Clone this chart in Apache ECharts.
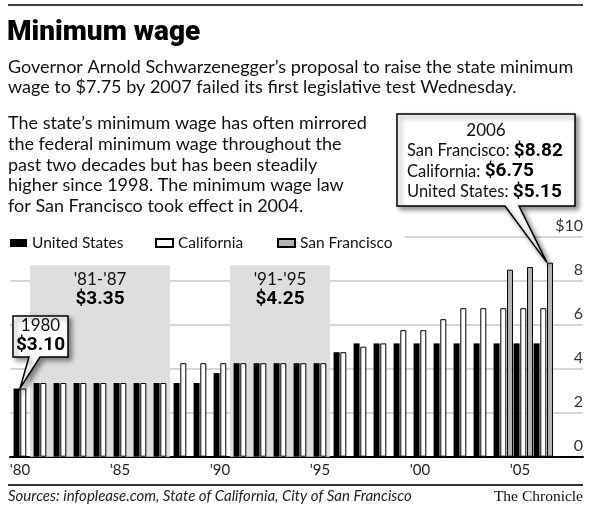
<!DOCTYPE html>
<html><head><meta charset="utf-8">
<script src="https://cdn.jsdelivr.net/npm/echarts@6/dist/echarts.min.js"></script>
<style>html,body{margin:0;padding:0;background:#fff}#c{width:600px;height:516px}</style>
</head><body><div id="c"></div>
<script>
// ---- data ----
const years = ['1980','1981','1982','1983','1984','1985','1986','1987','1988','1989','1990','1991','1992','1993','1994','1995','1996','1997','1998','1999','2000','2001','2002','2003','2004','2005','2006'];
const usWage = [3.10,3.35,3.35,3.35,3.35,3.35,3.35,3.35,3.35,3.35,3.80,4.25,4.25,4.25,4.25,4.25,4.75,5.15,5.15,5.15,5.15,5.15,5.15,5.15,5.15,5.15,5.15];
const caWage = [3.10,3.35,3.35,3.35,3.35,3.35,3.35,3.35,4.25,4.25,4.25,4.25,4.25,4.25,4.25,4.25,4.75,5.00,5.15,5.75,5.75,6.25,6.75,6.75,6.75,6.75,6.75];
const sfWage = [null,null,null,null,null,null,null,null,null,null,null,null,null,null,null,null,null,null,null,null,null,null,null,null,8.50,8.62,8.82];
const yTicks = [0,2,4,6,8,10];
const periodLabels = ["'81-'87", "'91-'95"];
const periodStart = [1981, 1991];
const periodEnd = [1987, 1995];
const periodWage = [3.35, 4.25];
const seriesNames = ['United States','California','San Francisco'];

const BODY = 'Lato';
const NUM = 'Roboto';
const chart = echarts.init(document.getElementById('c'));

const gridTop = 236.7, gridBottom = 59.3;
const option = {
  animation: false,
  backgroundColor: '#fff',
  grid: [
    {left: 10, right: 17, top: gridTop, bottom: gridBottom},
    {left: 13.3, width: 540, top: gridTop, bottom: gridBottom}
  ],
  xAxis: [
    {gridIndex: 0, type: 'value', min: 1979.5, max: 2008.15,
     axisLine: {show: true, lineStyle: {color: '#000', width: 2}},
     axisTick: {show: false}, axisLabel: {show: false}, splitLine: {show: false}},
    {gridIndex: 1, type: 'category', data: years,
     axisLine: {show: false}, axisTick: {show: false},
     axisLabel: {interval: 4, formatter: v => "'" + v.slice(2), fontSize: 15, fontFamily: BODY,
                 color: '#222', margin: 6, padding: [0, 6.6, 0, 0]}}
  ],
  yAxis: [
    {gridIndex: 0, type: 'value', min: yTicks[0], max: yTicks[yTicks.length-1], interval: 2, position: 'right',
     axisLine: {show: false}, axisTick: {show: false},
     splitLine: {lineStyle: {color: '#c8c8c8', width: 1.5}},
     axisLabel: {inside: true, verticalAlign: 'bottom', margin: 0, padding: [0, 0, 3, 0],
                 fontSize: 16, fontFamily: BODY, color: '#333',
                 formatter: v => v === 10 ? '$10' : String(v)}},
    {gridIndex: 1, type: 'value', min: 0, max: 10, show: false, splitLine: {show: false}}
  ],
  legend: seriesNames.map((n, i) => ({
    data: [n], left: [10, 155, 277][i], top: 235, padding: 0,
    itemWidth: 17, itemHeight: 8, icon: 'rect',
    textStyle: {fontSize: 15.5, fontFamily: BODY, color: '#111'}
  })),
  series: [
    {type: 'line', xAxisIndex: 0, yAxisIndex: 0, data: [], silent: true,
     markArea: {silent: true, itemStyle: {color: '#dedede'},
       label: {position: 'insideTop', distance: 5, color: '#111', lineHeight: 19,
               formatter: p => p.name},
       data: periodLabels.map((l, i) => [
         {xAxis: periodStart[i] - 0.5, yAxis: 0,
          name: '{a|' + l + '}\n{b|$' + periodWage[i].toFixed(2) + '}'},
         {xAxis: periodEnd[i] + 0.5, yAxis: 8.7}
       ])
     }},
    {name: seriesNames[0], type: 'bar', xAxisIndex: 1, yAxisIndex: 1, data: usWage,
     barWidth: 6, barGap: '12%', itemStyle: {color: '#000'}},
    {name: seriesNames[1], type: 'bar', xAxisIndex: 1, yAxisIndex: 1, data: caWage,
     barWidth: 6, barGap: '12%', itemStyle: {color: '#fff', borderColor: '#000', borderWidth: 1}},
    {name: seriesNames[2], type: 'bar', xAxisIndex: 1, yAxisIndex: 1, data: sfWage,
     barWidth: 6, barGap: '12%', itemStyle: {color: '#b4b4b4', borderColor: '#000', borderWidth: 1}}
  ]
};
option.series[0].markArea.label.rich = {
  a: {fontSize: 17, fontFamily: BODY, color: '#111', lineHeight: 19},
  b: {fontSize: 19, fontFamily: NUM, fontWeight: 'bold', color: '#000', lineHeight: 19}
};
chart.setOption(option);

// ---- annotations (text, rules, callouts) ----
function txt(text, x, y, size, opts) {
  return {type: 'text', x: x, y: y, z: 31,
    style: Object.assign({text: text, fontSize: size, fontFamily: BODY, fill: '#111',
      align: 'left', verticalAlign: 'middle'}, opts || {})};
}
const tip80 = chart.convertToPixel({gridIndex: 0}, [1980, usWage[0]]);
const tip06 = chart.convertToPixel({gridIndex: 0}, [2006.35, sfWage[26]]);
const shadow = {shadowBlur: 5, shadowOffsetX: 3, shadowOffsetY: 3, shadowColor: 'rgba(0,0,0,0.45)'};
const para = ["The state\u2019s minimum wage has often mirrored",
  "the federal minimum wage throughout the",
  "past two decades but has been steadily",
  "higher since 1998. The minimum wage law",
  "for San Francisco took effect in 2004."];
const paraY = [123.5, 144.5, 165.5, 185.5, 206.5];
const rich06 = {
  r: {fontSize: 16.5, fontFamily: BODY, fill: '#111'},
  b: {fontSize: 19, fontFamily: NUM, fontWeight: 'bold', fill: '#000'}
};
const graphics = [
  {type: 'rect', z: 1, shape: {x: 0, y: 230, width: 405, height: 20}, style: {fill: '#fff'}},
  {type: 'line', z: 20, shape: {x1: 8, y1: 5, x2: 583, y2: 5}, style: {stroke: '#444', lineWidth: 2}},
  {type: 'line', z: 20, shape: {x1: 8, y1: 485, x2: 583, y2: 485}, style: {stroke: '#333', lineWidth: 2}},
  txt('Minimum wage', 7, 32.5, 28, {fontFamily: NUM, fontWeight: 900, fill: '#000'}),
  txt('Governor Arnold Schwarzenegger\u2019s proposal to raise the state minimum', 8, 67.5, 18),
  txt('wage to $7.75 by 2007 failed its first legislative test Wednesday.', 8, 87.5, 18),
  ...para.map((l, i) => txt(l, 8, paraY[i], 18)),
  txt('Sources: infoplease.com, State of California, City of San Francisco', 8, 496.5, 15, {fontStyle: 'italic', fill: '#222'}),
  txt('The Chronicle', 583, 496.5, 15.5, {align: 'right', fontFamily: 'Liberation Serif', fill: '#111'}),
  // 1980 callout
  {type: 'polygon', z: 30, shape: {points: [[13,316],[68,316],[68,357],[40,357],[tip80[0], tip80[1]],[29,357],[13,357]]},
   style: Object.assign({fill: '#fff', stroke: '#000', lineWidth: 1.5}, shadow)},
  txt('1980', 40.5, 326, 17, {align: 'center'}),
  txt('$' + usWage[0].toFixed(2), 40.5, 345.5, 19, {align: 'center', fontFamily: NUM, fontWeight: 'bold', fill: '#000'}),
  // 2006 callout
  {type: 'polygon', z: 30, shape: {points: [[397,114],[575,114],[575,206],[519,206],[tip06[0], tip06[1]],[505,206],[397,206]]},
   style: Object.assign({fill: '#fff', stroke: '#000', lineWidth: 1.5}, shadow)},
  txt('2006', 486, 131, 17, {align: 'center'}),
  txt('{r|San Francisco: }{b|$' + sfWage[26].toFixed(2) + '}', 407, 151, 16.5, {rich: rich06}),
  txt('{r|California: }{b|$' + caWage[26].toFixed(2) + '}', 407, 171.5, 16.5, {rich: rich06}),
  txt('{r|United States: }{b|$' + usWage[26].toFixed(2) + '}', 407, 192, 16.5, {rich: rich06})
];
chart.setOption({graphic: graphics});
</script></body></html>
